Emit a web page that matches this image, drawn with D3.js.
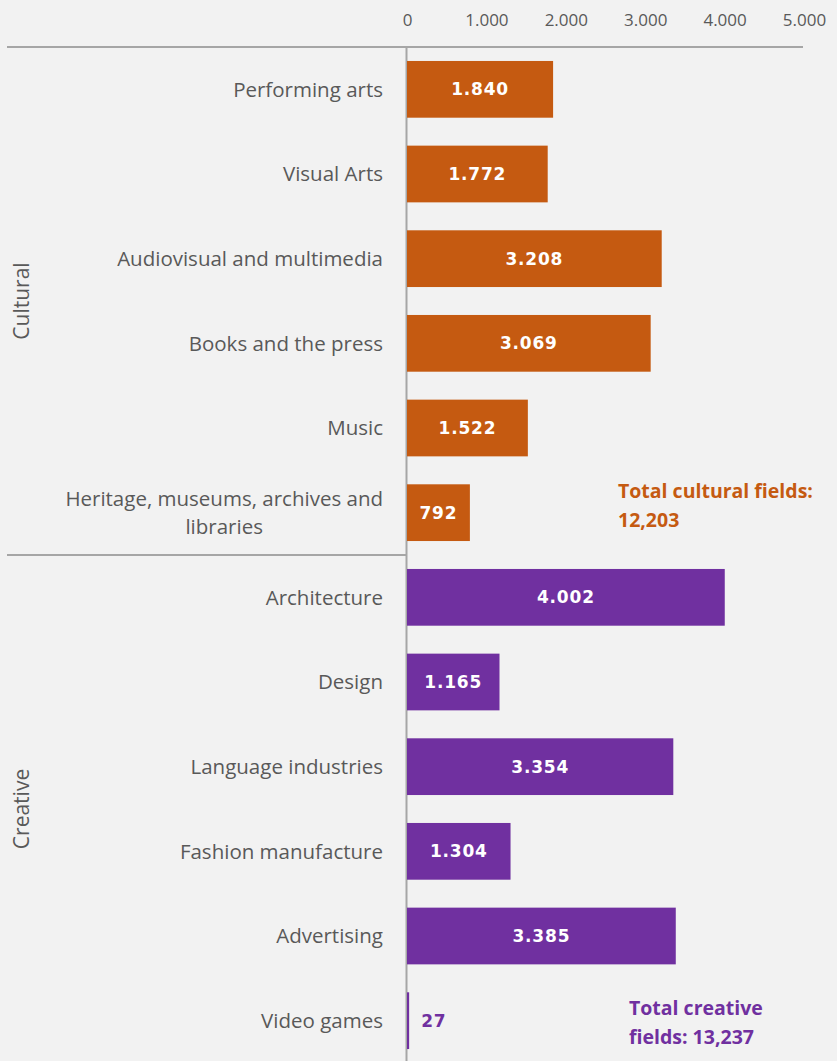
<!DOCTYPE html>
<meta charset="utf-8">
<style>
  body { margin: 0; background: #f2f2f2; }
  svg { display: block; }
</style>
<svg width="837" height="1061"></svg>
<script src="https://d3js.org/d3.v7.min.js"></script>
<script>

    // data
    var categories = ["Performing arts", "Visual Arts", "Audiovisual and multimedia", "Books and the press",
        "Music", "Heritage, museums, archives and|libraries", "Architecture", "Design",
        "Language industries", "Fashion manufacture", "Advertising", "Video games"];
    var values = [1840, 1772, 3208, 3069, 1522, 792, 4002, 1165, 3354, 1304, 3385, 27];
    var groups = ["Cultural", "Cultural", "Cultural", "Cultural", "Cultural", "Cultural",
        "Creative", "Creative", "Creative", "Creative", "Creative", "Creative"];
    var groupNames = ["Cultural", "Creative"];
    var totalLabels = [["Total cultural fields:", "12,203"], ["Total creative", "fields: 13,237"]];
    var xTicks = [0, 1000, 2000, 3000, 4000, 5000];

    var colors = {Cultural: "#c55a11", Creative: "#7030a0"};
    var grey = "#595959";

    var svg = d3.select("svg"),
        plotTop = 47,
        plotBottom = 1063;

    var x = d3.scaleLinear().domain([0, 5000]).range([407, 804]);
    var y = d3.scaleBand().domain(d3.range(categories.length)).range([plotTop, plotBottom]).paddingInner(0.33).paddingOuter(0.165);

    var fmt = d3.formatLocale({decimal: ",", thousands: ".", grouping: [3], currency: ["", ""]}).format(",");

    // top axis
    var axis = svg.append("g").attr("transform", "translate(0," + plotTop + ")")
        .call(d3.axisTop(x).tickValues(xTicks).tickFormat(fmt).tickSize(0).tickPadding(21));
    axis.select(".domain").remove();
    axis.selectAll("text").attr("fill", grey).style("font-family", "Open Sans").style("font-size", "17px");

    svg.append("line").attr("x1", 7).attr("x2", 803).attr("y1", plotTop).attr("y2", plotTop)
        .attr("stroke", "#a6a6a6").attr("stroke-width", 2);
    svg.append("line").attr("x1", 406.5).attr("x2", 406.5).attr("y1", plotTop).attr("y2", 1061)
        .attr("stroke", "#a6a6a6").attr("stroke-width", 2);
    svg.append("line").attr("x1", 7).attr("x2", 407).attr("y1", y.step() * 6 + plotTop).attr("y2", y.step() * 6 + plotTop)
        .attr("stroke", "#a6a6a6").attr("stroke-width", 2);

    // bars
    svg.selectAll("rect.bar").data(values).enter().append("rect")
        .attr("class", "bar")
        .attr("x", x(0))
        .attr("y", function (d, i) { return y(i); })
        .attr("width", function (d) { return Math.max(x(d) - x(0), 2); })
        .attr("height", y.bandwidth())
        .attr("fill", function (d, i) { return colors[groups[i]]; });

    // value labels
    svg.selectAll("text.val").data(values).enter().append("text")
        .attr("class", "val")
        .attr("x", function (d) {
            var w = x(d) - x(0);
            return w < 40 ? x(d) + 12 : x(0) + w / 2;
        })
        .attr("y", function (d, i) { return y(i) + y.bandwidth() / 2; })
        .attr("dy", "0.36em")
        .attr("text-anchor", function (d) { return x(d) - x(0) < 40 ? "start" : "middle"; })
        .attr("fill", function (d, i) { return x(d) - x(0) < 40 ? colors[groups[i]] : "#fff"; })
        .style("font-family", "DejaVu Sans").style("font-weight", "bold").style("font-size", "17px")
        .style("letter-spacing", "0.8px")
        .text(function (d) { return fmt(d); });

    // category labels
    categories.forEach(function (c, i) {
        var lines = c.split("|");
        var cy = y(i) + y.bandwidth() / 2;
        var t = svg.append("text").attr("fill", grey)
            .style("font-family", "Open Sans").style("font-size", "20.5px");
        if (lines.length == 1) {
            t.attr("x", 383).attr("y", cy).attr("dy", "0.35em").attr("text-anchor", "end").text(c);
        } else {
            t.attr("text-anchor", "middle");
            var s1 = t.append("tspan").text(lines[0]).attr("y", cy - 14).attr("dy", "0.35em");
            var w = s1.node().getComputedTextLength();
            s1.attr("x", 383 - w / 2);
            t.append("tspan").text(lines[1]).attr("x", 383 - w / 2).attr("y", cy + 14).attr("dy", "0.35em");
        }
    });

    // group labels
    groupNames.forEach(function (g, k) {
        var cy = plotTop + y.step() * 6 * (k + 0.5);
        svg.append("text").attr("transform", "translate(29," + cy + ") rotate(-90)")
            .attr("text-anchor", "middle").attr("fill", grey)
            .style("font-family", "Open Sans").style("font-size", "21px").text(g);
    });

    // totals
    var totalPos = [[618, 498], [629, 1015]];
    totalLabels.forEach(function (lines, k) {
        var t = svg.append("text").attr("fill", colors[groupNames[k]])
            .style("font-family", "Open Sans").style("font-weight", "bold").style("font-size", "19.5px");
        lines.forEach(function (l, j) {
            t.append("tspan").attr("x", totalPos[k][0]).attr("y", totalPos[k][1] + j * 29).text(l);
        });
    });

</script>
